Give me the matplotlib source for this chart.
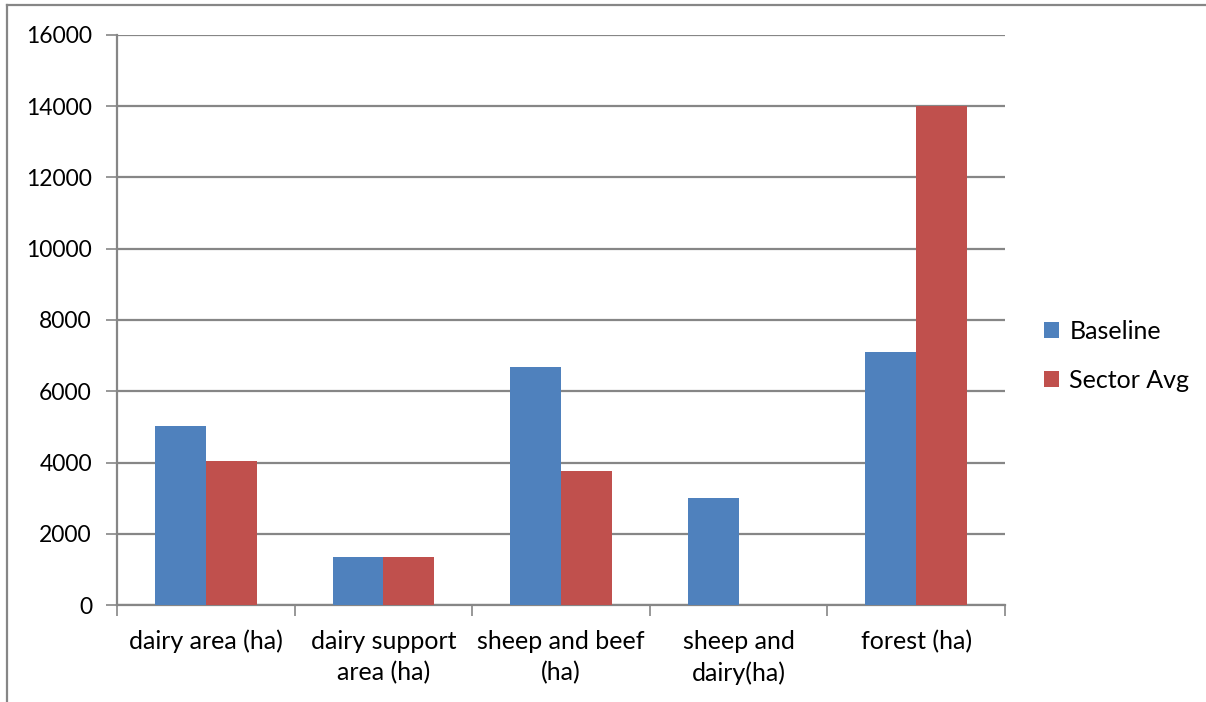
import matplotlib.pyplot as plt
import numpy as np
from matplotlib.lines import Line2D

categories = ["dairy area (ha)", "dairy support\narea (ha)", "sheep and beef\n(ha)",
              "sheep and\ndairy(ha)", "forest (ha)"]
baseline = [5030, 1350, 6680, 3000, 7100]
sector_avg = [4040, 1350, 3750, 0, 14000]
yticks = [0, 2000, 4000, 6000, 8000, 10000, 12000, 14000, 16000]

plt.rcParams['font.family'] = ['Lato', 'DejaVu Sans']
grey = '#868686'

fig = plt.figure(figsize=(12.06, 7.02), dpi=100)
ax = fig.add_axes([117 / 1206, 1 - 605 / 702, 888 / 1206, 570 / 702])

X = np.arange(len(categories))
w = 1 / 3.5  # Excel gap width 150%
ax.bar(X - w / 2, baseline, w, color='#4f81bd', label='Baseline', zorder=3)
ax.bar(X + w / 2, sector_avg, w, color='#c0504d', label='Sector Avg', zorder=3)

ax.set_xlim(-0.5, len(categories) - 0.5)
ax.set_ylim(0, 16000)
ax.set_yticks(yticks)
ax.set_yticklabels([str(v) for v in yticks], fontsize=16.5)
ax.yaxis.grid(True, color=grey, linewidth=1.6, zorder=0)
ax.tick_params(axis='y', length=8, width=1.2, color=grey, pad=10)

# category labels between boundary ticks
ax.set_xticks(np.arange(len(categories) + 1) - 0.5)
ax.set_xticklabels([])
ax.tick_params(axis='x', length=8, width=1.2, color=grey)
for i, lab in enumerate(categories):
    ax.text(i, -0.043, lab, transform=ax.get_xaxis_transform(), ha='center',
            va='top', fontsize=18, linespacing=1.45)

for s in ['top', 'right']:
    ax.spines[s].set_visible(False)
for s in ['left', 'bottom']:
    ax.spines[s].set_color(grey)
    ax.spines[s].set_linewidth(1.6)

ax.legend(loc='center left', bbox_to_anchor=(1.019, 0.437), frameon=False,
          fontsize=18, handlelength=0.6, handleheight=0.6, handletextpad=0.4,
          labelspacing=1.05)

# chart border (only top and left edges visible in the crop)
fig.add_artist(Line2D([7 / 1206, 7 / 1206], [0, 1 - 5 / 702], color=grey, lw=1.6))
fig.add_artist(Line2D([7 / 1206, 1], [1 - 5 / 702, 1 - 5 / 702], color=grey, lw=1.6))

fig.savefig('out.png', dpi=100)
